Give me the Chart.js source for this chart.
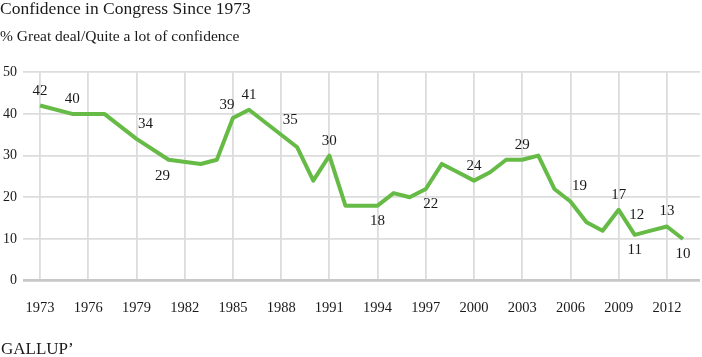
<!DOCTYPE html>
<html>
<head>
<meta charset="utf-8">
<script src="https://cdn.jsdelivr.net/npm/chart.js@4.4.1/dist/chart.umd.min.js"></script>
<style>
html,body{margin:0;padding:0;background:#fff;}
#wrap{position:relative;width:702px;height:357px;}
</style>
</head>
<body>
<div id="wrap"><canvas id="c"></canvas></div>
<script>
// ---- data ----
const years  = [1973,1975,1977,1979,1981,1983,1984,1985,1986,1988,1989,1990,1991,1992,1993,1994,1995,1996,1997,1998,1999,2000,2001,2002,2003,2004,2005,2006,2007,2008,2009,2010,2011,2012,2013];
const values = [42,40,40,34,29,28,29,39,41,35,32,24,30,18,18,18,21,20,22,28,26,24,26,29,29,30,22,19,14,12,17,11,12,13,10];
const xTickYears = [1973,1976,1979,1982,1985,1988,1991,1994,1997,2000,2003,2006,2009,2012];
const yTickValues = [0,10,20,30,40,50];
const labeledYears   = [1973,1975,1979,1981,1985,1986,1988,1991,1994,1997,2000,2003,2006,2009,2010,2011,2012,2013];
const labelPlacement = ['above','above','aboveRight','belowLeft','aboveLeft','above','aboveRight','above','below','belowRight','above','above','aboveRight','above','below','aboveFarLeft','above','below'];
const titleText = 'Confidence in Congress Since 1973';
const subtitleText = '% Great deal/Quite a lot of confidence';
const footerText = 'GALLUP\u2019';

// ---- styling helpers ----
const SERIF = '"Liberation Serif", "Times New Roman", serif';
const TEXT = '#1a1a1a';
const offsets = {
  above:[0,-16], below:[0,14], aboveRight:[9,-16], belowLeft:[-6,15],
  aboveLeft:[-6,-14], belowRight:[5,14], aboveFarLeft:[-14,-17]
};

const pointLabels = {
  id:'pointLabels',
  afterDatasetsDraw(chart){
    const meta = chart.getDatasetMeta(0);
    const ctx = chart.ctx;
    ctx.save();
    ctx.font = '15px ' + SERIF;
    ctx.fillStyle = TEXT;
    ctx.textAlign = 'center';
    ctx.textBaseline = 'alphabetic';
    labeledYears.forEach((yr,i)=>{
      const idx = years.indexOf(yr);
      const p = meta.data[idx];
      const o = offsets[labelPlacement[i]];
      ctx.fillText(String(values[idx]), p.x + o[0], p.y + o[1] + 5);
    });
    ctx.restore();
  }
};

const footer = {
  id:'footer',
  afterDraw(chart){
    const ctx = chart.ctx;
    ctx.save();
    ctx.font = '17px ' + SERIF;
    ctx.fillStyle = TEXT;
    ctx.textAlign = 'left';
    ctx.textBaseline = 'alphabetic';
    ctx.fillText(footerText, 1, 354);
    ctx.restore();
  }
};

new Chart(document.getElementById('c'), {
  type:'line',
  data:{
    datasets:[{
      data: years.map((y,i)=>({x:y, y:values[i]})),
      borderColor:'#66bb46',
      borderWidth:4,
      pointRadius:0,
      tension:0,
      borderJoinStyle:'round',
      fill:false
    }]
  },
  options:{
    responsive:true,
    maintainAspectRatio:false,
    animation:false,
    events:[],
    layout:{padding:{left:0,right:2,top:0,bottom:36.3}},
    plugins:{
      legend:{display:false},
      tooltip:{enabled:false},
      title:{display:true,text:titleText,align:'start',color:TEXT,
        font:{family:SERIF,size:17.5,weight:'normal',lineHeight:1},
        padding:{top:1,bottom:11}},
      subtitle:{display:true,text:subtitleText,align:'start',color:TEXT,
        font:{family:SERIF,size:15.5,weight:'normal',lineHeight:1},
        padding:{top:0,bottom:27.2}}
    },
    scales:{
      x:{
        type:'linear',
        min:1971.94,
        max:2014.06,
        afterBuildTicks:(s)=>{ s.ticks = xTickYears.map(v=>({value:v})); },
        afterFit:(s)=>{ s.height = 40; },
        ticks:{callback:(v)=>String(v),color:TEXT,padding:19,maxRotation:0,autoSkip:false,
          font:{family:SERIF,size:14.5}},
        grid:{color:'#dcdcdc',lineWidth:1.8,drawTicks:false},
        border:{display:false}
      },
      y:{
        min:0,max:50,
        afterBuildTicks:(s)=>{ s.ticks = yTickValues.map(v=>({value:v})); },
        afterFit:(s)=>{ s.width = 23; },
        ticks:{color:TEXT,padding:6,font:{family:SERIF,size:14}},
        grid:{drawTicks:false,
          color:(c)=> c.tick && c.tick.value===0 ? '#c8c8c8' : '#dcdcdc',
          lineWidth:(c)=> c.tick && c.tick.value===0 ? 2.8 : 1.8},
        border:{display:false}
      }
    }
  },
  plugins:[pointLabels, footer]
});
</script>
</body>
</html>
